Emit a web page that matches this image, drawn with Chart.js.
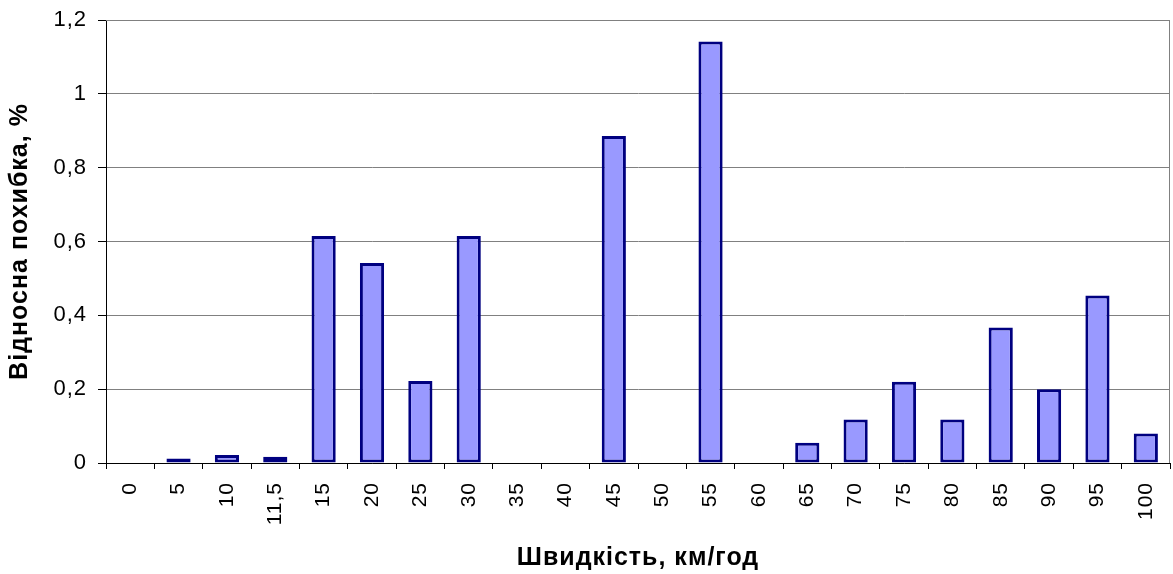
<!DOCTYPE html>
<html>
<head>
<meta charset="utf-8">
<script src="https://cdn.jsdelivr.net/npm/chart.js@4/dist/chart.umd.min.js"></script>
<style>
  html, body { margin: 0; padding: 0; background: #ffffff; }
  #wrap { width: 1173px; height: 574px; position: relative; }
</style>
</head>
<body>
<div id="wrap"><canvas id="c"></canvas></div>
<script>
// Speed points, km/h
const speeds = ['0', '5', '10', '11,5', '15', '20', '25', '30', '35', '40', '45',
                '50', '55', '60', '65', '70', '75', '80', '85', '90', '95', '100'];
// Relative error at each speed, %
const relError = [0, 0.012, 0.022, 0.017, 0.615, 0.542, 0.222, 0.615, 0, 0, 0.886,
                  0, 1.142, 0, 0.055, 0.118, 0.22, 0.118, 0.367, 0.2, 0.454, 0.08];
// Value axis range and step
const yMin = 0;
const yMax = 1.2;
const yStep = 0.2;

const fontFamily = '"Liberation Sans", Arial, sans-serif';

// Slightly wider letter spacing for all chart text
const textSpacing = {
  id: 'textSpacing',
  beforeLayout(chart) { chart.ctx.letterSpacing = '1px'; },
  beforeDraw(chart) { chart.ctx.letterSpacing = '1px'; }
};

// Grey frame on the top and right of the plot area
const plotFrame = {
  id: 'plotFrame',
  beforeDatasetsDraw(chart) {
    const a = chart.chartArea;
    const ctx = chart.ctx;
    ctx.save();
    ctx.strokeStyle = '#808080';
    ctx.lineWidth = 1;
    ctx.beginPath();
    ctx.moveTo(a.left, Math.round(a.top) + 0.5);
    ctx.lineTo(Math.round(a.right) - 0.5, Math.round(a.top) + 0.5);
    ctx.lineTo(Math.round(a.right) - 0.5, a.bottom);
    ctx.stroke();
    ctx.restore();
  }
};

new Chart(document.getElementById('c'), {
  type: 'bar',
  data: {
    labels: speeds,
    datasets: [{
      data: relError,
      backgroundColor: '#9999FF',
      borderColor: '#000080',
      borderWidth: 3,
      borderSkipped: false,
      categoryPercentage: 1,
      barPercentage: 0.5
    }]
  },
  options: {
    responsive: true,
    maintainAspectRatio: false,
    animation: false,
    layout: { padding: { top: 20, right: 3, left: 0, bottom: 0 } },
    plugins: {
      legend: { display: false },
      tooltip: { enabled: false }
    },
    scales: {
      x: {
        offset: true,
        grid: {
          offset: true,
          drawOnChartArea: false,
          drawTicks: true,
          tickLength: 6,
          tickColor: '#000000'
        },
        border: { color: '#000000', width: 1 },
        ticks: {
          color: '#000000',
          font: { family: fontFamily, size: 21 },
          maxRotation: 90,
          minRotation: 90,
          padding: 13,
          autoSkip: false
        },
        title: {
          display: true,
          text: 'Швидкість, км/год',
          color: '#000000',
          font: { family: fontFamily, size: 25, weight: 'bold' },
          padding: { top: 0, bottom: 1 }
        },
        afterFit(scale) {
          scale.height = 111;
          scale.paddingLeft = 0;
          scale.paddingRight = 0;
        }
      },
      y: {
        min: yMin,
        max: yMax,
        grid: {
          color: '#808080',
          lineWidth: 1,
          drawTicks: true,
          tickLength: 8,
          tickColor: '#000000'
        },
        border: { color: '#000000', width: 1 },
        ticks: {
          stepSize: yStep,
          color: '#000000',
          font: { family: fontFamily, size: 22 },
          padding: 11,
          callback: v => String(Math.round(v * 10) / 10).replace('.', ',')
        },
        title: {
          display: true,
          text: 'Відносна похибка, %',
          color: '#000000',
          font: { family: fontFamily, size: 25, weight: 'bold' },
          padding: { top: 5, bottom: 0 }
        },
        afterFit(scale) {
          scale.width = 106;
          scale.paddingTop = 0;
          scale.paddingBottom = 0;
        }
      }
    }
  },
  plugins: [textSpacing, plotFrame]
});
</script>
</body>
</html>
